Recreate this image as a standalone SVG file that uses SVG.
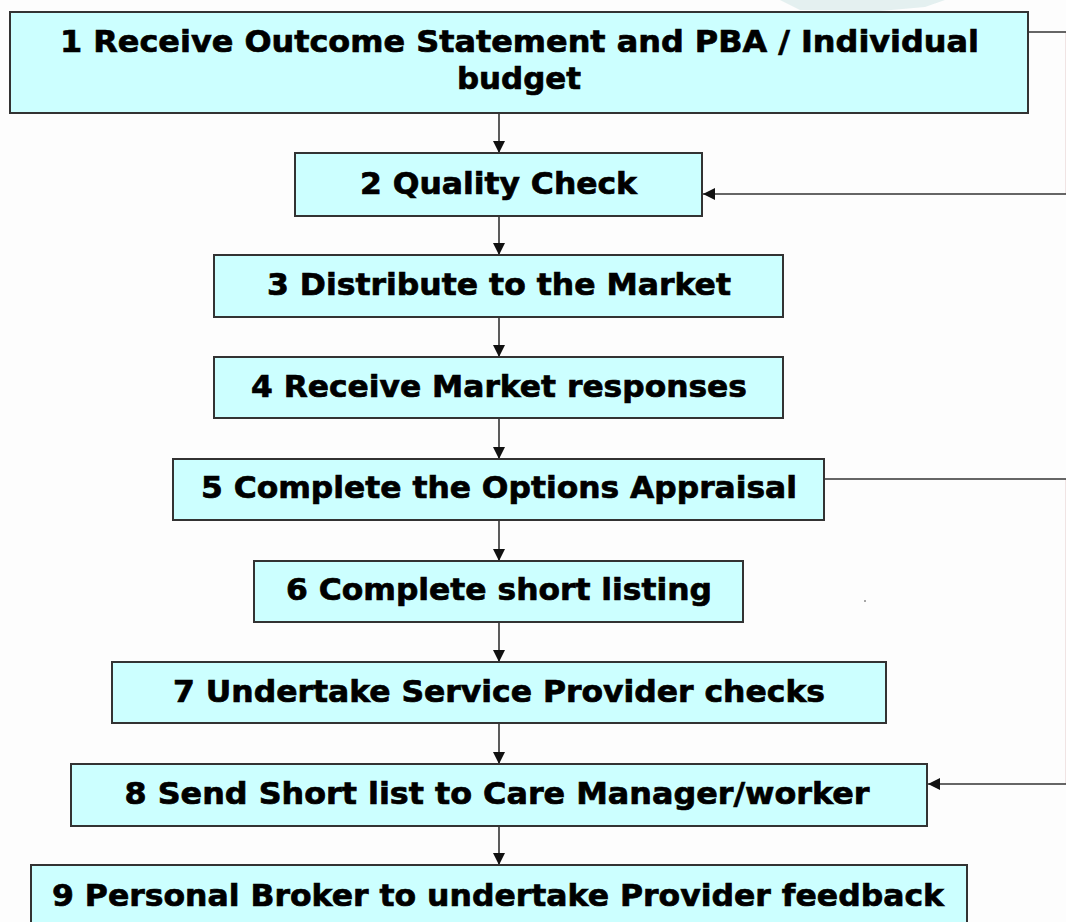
<svg xmlns="http://www.w3.org/2000/svg" width="1066" height="922" viewBox="0 0 1066 922">
<defs>
<style>
.box{fill:#ccffff;stroke:#333;stroke-width:2}
.lbl{font-family:"DejaVu Sans","Verdana",sans-serif;font-weight:bold;font-size:31px;fill:#000;stroke:#000;stroke-width:0.7}
.ln{fill:none;stroke:#333;stroke-width:1.6}
</style>
<marker id="ah" viewBox="0 0 12 12" refX="12" refY="6" markerWidth="12" markerHeight="12" markerUnits="userSpaceOnUse" orient="auto">
<path d="M0,0 L12,6 L0,12 Z" fill="#111"/>
</marker>
</defs>
<rect width="1066" height="922" fill="#fdfdfd"/>
<path d="M780,0 L945,0 L925,7 L880,11 L800,10 Z" fill="#e4f0f0"/>
<line x1="1065.5" y1="32" x2="1065.5" y2="194" stroke="#f0e4e4" stroke-width="1"/>
<line x1="1065.5" y1="479" x2="1065.5" y2="784" stroke="#f0e4e4" stroke-width="1"/>
<circle cx="865" cy="601" r="1" fill="#888"/>
<g id="connectors">
<line class="ln" x1="499" y1="113" x2="499" y2="153" marker-end="url(#ah)"/>
<line class="ln" x1="499" y1="216" x2="499" y2="255" marker-end="url(#ah)"/>
<line class="ln" x1="499" y1="317" x2="499" y2="357" marker-end="url(#ah)"/>
<line class="ln" x1="499" y1="418" x2="499" y2="459" marker-end="url(#ah)"/>
<line class="ln" x1="499" y1="520" x2="499" y2="561" marker-end="url(#ah)"/>
<line class="ln" x1="499" y1="622" x2="499" y2="662" marker-end="url(#ah)"/>
<line class="ln" x1="499" y1="723" x2="499" y2="764" marker-end="url(#ah)"/>
<line class="ln" x1="499" y1="826" x2="499" y2="865" marker-end="url(#ah)"/>
<line class="ln" x1="1028" y1="32" x2="1066" y2="32"/>
<line class="ln" x1="1066" y1="194" x2="703" y2="194" marker-end="url(#ah)"/>
<line class="ln" x1="824" y1="479" x2="1066" y2="479"/>
<line class="ln" x1="1066" y1="784" x2="928" y2="784" marker-end="url(#ah)"/>
</g>
<g id="n1"><rect class="box" x="10" y="12" width="1018" height="101"/>
<text class="lbl" x="519.5" y="52" text-anchor="middle" textLength="919" lengthAdjust="spacingAndGlyphs">1 Receive Outcome Statement and PBA / Individual</text>
<text class="lbl" x="519" y="89" text-anchor="middle" textLength="124" lengthAdjust="spacingAndGlyphs">budget</text></g>
<g id="n2"><rect class="box" x="295" y="153" width="407" height="63"/>
<text class="lbl" x="498.5" y="194" text-anchor="middle" textLength="277" lengthAdjust="spacingAndGlyphs">2 Quality Check</text></g>
<g id="n3"><rect class="box" x="214" y="255" width="569" height="62"/>
<text class="lbl" x="499" y="295" text-anchor="middle" textLength="464" lengthAdjust="spacingAndGlyphs">3 Distribute to the Market</text></g>
<g id="n4"><rect class="box" x="214" y="357" width="569" height="61"/>
<text class="lbl" x="499" y="397" text-anchor="middle" textLength="496" lengthAdjust="spacingAndGlyphs">4 Receive Market responses</text></g>
<g id="n5"><rect class="box" x="173" y="459" width="651" height="61"/>
<text class="lbl" x="499" y="498" text-anchor="middle" textLength="596" lengthAdjust="spacingAndGlyphs">5 Complete the Options Appraisal</text></g>
<g id="n6"><rect class="box" x="254" y="561" width="489" height="61"/>
<text class="lbl" x="499" y="600" text-anchor="middle" textLength="426" lengthAdjust="spacingAndGlyphs">6 Complete short listing</text></g>
<g id="n7"><rect class="box" x="112" y="662" width="774" height="61"/>
<text class="lbl" x="499" y="702" text-anchor="middle" textLength="652" lengthAdjust="spacingAndGlyphs">7 Undertake Service Provider checks</text></g>
<g id="n8"><rect class="box" x="71" y="764" width="856" height="62"/>
<text class="lbl" x="497" y="804" text-anchor="middle" textLength="745" lengthAdjust="spacingAndGlyphs">8 Send Short list to Care Manager/worker</text></g>
<g id="n9"><rect class="box" x="31" y="865" width="936" height="70"/>
<text class="lbl" x="498" y="906" text-anchor="middle" textLength="892" lengthAdjust="spacingAndGlyphs">9 Personal Broker to undertake Provider feedback</text></g>
</svg>
